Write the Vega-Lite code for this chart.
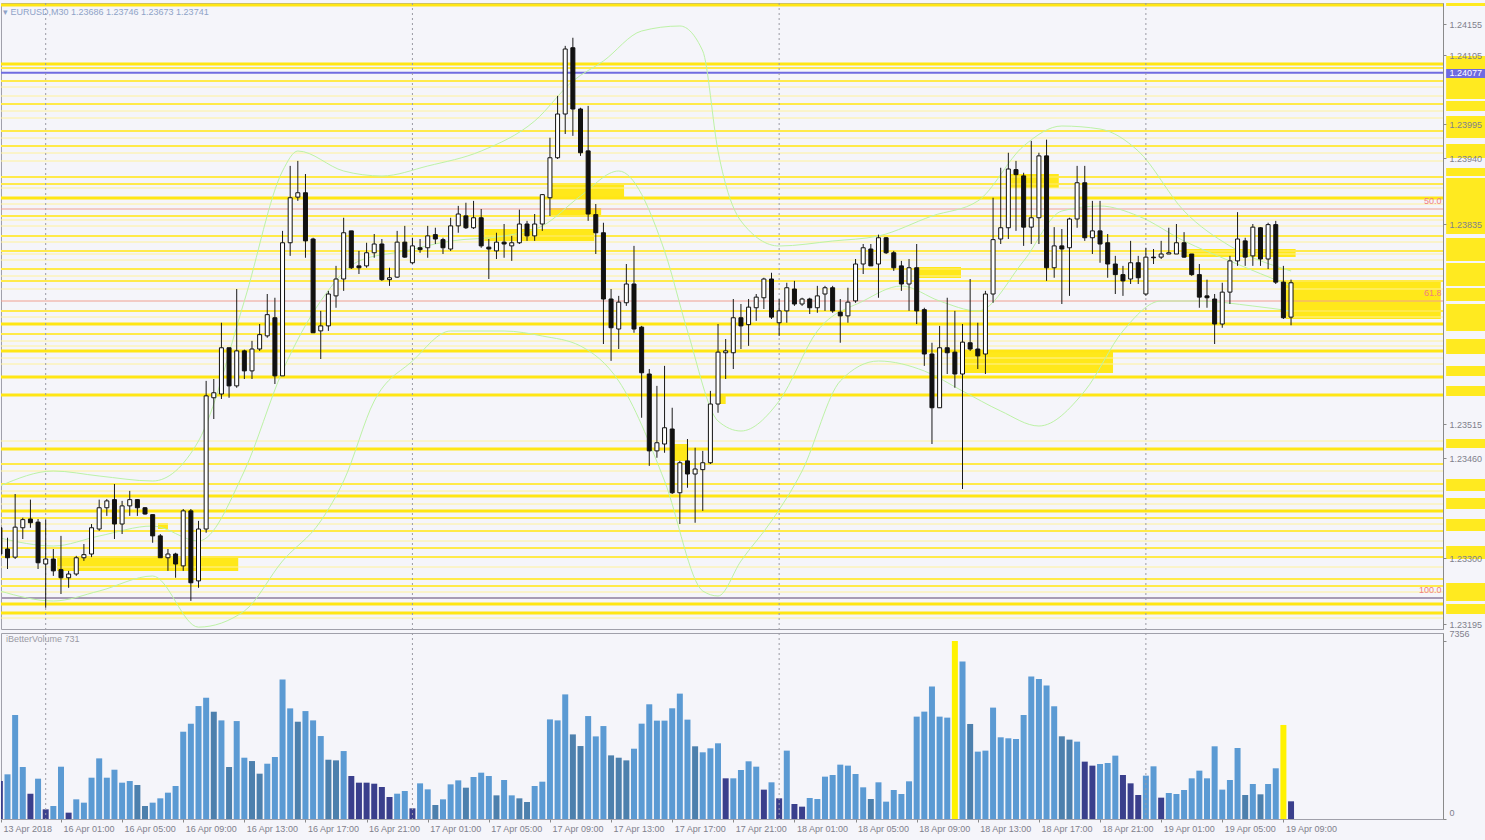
{
  "$schema": "https://vega.github.io/schema/vega-lite/v6.json",
  "background": "#F5F5FA",
  "autosize": {"type": "pad"},
  "padding": {"left": 0, "top": 2, "right": 0, "bottom": 6},
  "bounds": "flush",
  "spacing": 4,
  "config": {
    "font": "Liberation Sans",
    "view": {"stroke": "#A0A0AA", "strokeWidth": 1},
    "axis": {"labelFont": "Liberation Sans", "labelFontSize": 9, "labelColor": "#7F7F8C", "tickColor": "#8A8A8A", "domainColor": "#8A8A8A", "grid": false}
  },
  "datasets": {
    "bars": [
      {"i":-6,"o":1.23349,"h":1.23360,"l":1.23296,"c":1.23307,"v":1570,"k":"d"},
      {"i":-5,"o":1.23315,"h":1.23333,"l":1.23283,"c":1.23301,"v":1846,"k":"n"},
      {"i":-4,"o":1.23302,"h":1.23403,"l":1.23299,"c":1.23350,"v":4295,"k":"n"},
      {"i":-3,"o":1.23349,"h":1.23365,"l":1.23331,"c":1.23362,"v":2148,"k":"n"},
      {"i":-2,"o":1.23363,"h":1.23394,"l":1.23349,"c":1.23357,"v":1046,"k":"d"},
      {"i":-1,"o":1.23358,"h":1.23363,"l":1.23283,"c":1.23293,"v":1666,"k":"n"},
      {"i":0,"o":1.23291,"h":1.23362,"l":1.23221,"c":1.23299,"v":400,"k":"d"},
      {"i":1,"o":1.23299,"h":1.23315,"l":1.23272,"c":1.23280,"v":537,"k":"n"},
      {"i":2,"o":1.23282,"h":1.23336,"l":1.23243,"c":1.23269,"v":2161,"k":"n"},
      {"i":3,"o":1.23269,"h":1.23280,"l":1.23253,"c":1.23275,"v":262,"k":"d"},
      {"i":4,"o":1.23275,"h":1.23304,"l":1.23272,"c":1.23301,"v":813,"k":"n"},
      {"i":5,"o":1.23301,"h":1.23323,"l":1.23296,"c":1.23306,"v":675,"k":"n"},
      {"i":6,"o":1.23307,"h":1.23355,"l":1.23302,"c":1.23349,"v":1707,"k":"n"},
      {"i":7,"o":1.23347,"h":1.23394,"l":1.23344,"c":1.23381,"v":2505,"k":"n"},
      {"i":8,"o":1.23381,"h":1.23395,"l":1.23368,"c":1.23392,"v":1707,"k":"n"},
      {"i":9,"o":1.23394,"h":1.23419,"l":1.23331,"c":1.23355,"v":2037,"k":"n"},
      {"i":10,"o":1.23355,"h":1.23392,"l":1.23339,"c":1.23384,"v":1501,"k":"n"},
      {"i":11,"o":1.23384,"h":1.23408,"l":1.23368,"c":1.23394,"v":1569,"k":"n"},
      {"i":12,"o":1.23394,"h":1.23395,"l":1.23368,"c":1.23381,"v":1404,"k":"s"},
      {"i":13,"o":1.23381,"h":1.23382,"l":1.23370,"c":1.23371,"v":537,"k":"s"},
      {"i":14,"o":1.23370,"h":1.23370,"l":1.23325,"c":1.23336,"v":675,"k":"n"},
      {"i":15,"o":1.23336,"h":1.23339,"l":1.23301,"c":1.23301,"v":854,"k":"n"},
      {"i":16,"o":1.23301,"h":1.23315,"l":1.23280,"c":1.23307,"v":1088,"k":"n"},
      {"i":17,"o":1.23307,"h":1.23309,"l":1.23269,"c":1.23291,"v":1363,"k":"n"},
      {"i":18,"o":1.23288,"h":1.23379,"l":1.23280,"c":1.23376,"v":3607,"k":"n"},
      {"i":19,"o":1.23376,"h":1.23379,"l":1.23232,"c":1.23261,"v":3937,"k":"n"},
      {"i":20,"o":1.23264,"h":1.23360,"l":1.23253,"c":1.23347,"v":4667,"k":"n"},
      {"i":21,"o":1.23347,"h":1.23584,"l":1.23341,"c":1.23560,"v":5011,"k":"n"},
      {"i":22,"o":1.23557,"h":1.23587,"l":1.23523,"c":1.23565,"v":4433,"k":"s"},
      {"i":23,"o":1.23563,"h":1.23677,"l":1.23555,"c":1.23637,"v":4075,"k":"n"},
      {"i":24,"o":1.23637,"h":1.23637,"l":1.23557,"c":1.23576,"v":2148,"k":"s"},
      {"i":25,"o":1.23576,"h":1.23731,"l":1.23573,"c":1.23632,"v":4047,"k":"n"},
      {"i":26,"o":1.23632,"h":1.23634,"l":1.23587,"c":1.23600,"v":2533,"k":"n"},
      {"i":27,"o":1.23600,"h":1.23648,"l":1.23587,"c":1.23635,"v":2395,"k":"s"},
      {"i":28,"o":1.23635,"h":1.23675,"l":1.23632,"c":1.23658,"v":1873,"k":"s"},
      {"i":29,"o":1.23656,"h":1.23723,"l":1.23653,"c":1.23690,"v":2285,"k":"n"},
      {"i":30,"o":1.23685,"h":1.23717,"l":1.23579,"c":1.23592,"v":2561,"k":"n"},
      {"i":31,"o":1.23592,"h":1.23824,"l":1.23592,"c":1.23805,"v":5768,"k":"n"},
      {"i":32,"o":1.23805,"h":1.23928,"l":1.23784,"c":1.23877,"v":4571,"k":"n"},
      {"i":33,"o":1.23878,"h":1.23936,"l":1.23872,"c":1.23885,"v":4020,"k":"s"},
      {"i":34,"o":1.23885,"h":1.23915,"l":1.23781,"c":1.23808,"v":4460,"k":"n"},
      {"i":35,"o":1.23811,"h":1.23813,"l":1.23661,"c":1.23661,"v":4075,"k":"n"},
      {"i":36,"o":1.23664,"h":1.23696,"l":1.23619,"c":1.23672,"v":3428,"k":"n"},
      {"i":37,"o":1.23672,"h":1.23728,"l":1.23664,"c":1.23723,"v":2450,"k":"s"},
      {"i":38,"o":1.23720,"h":1.23768,"l":1.23701,"c":1.23747,"v":2423,"k":"s"},
      {"i":39,"o":1.23747,"h":1.23845,"l":1.23728,"c":1.23821,"v":2808,"k":"n"},
      {"i":40,"o":1.23824,"h":1.23824,"l":1.23763,"c":1.23765,"v":1776,"k":"d"},
      {"i":41,"o":1.23768,"h":1.23792,"l":1.23755,"c":1.23765,"v":1501,"k":"d"},
      {"i":42,"o":1.23768,"h":1.23805,"l":1.23765,"c":1.23789,"v":1501,"k":"d"},
      {"i":43,"o":1.23789,"h":1.23819,"l":1.23781,"c":1.23803,"v":1459,"k":"d"},
      {"i":44,"o":1.23803,"h":1.23811,"l":1.23744,"c":1.23746,"v":1322,"k":"d"},
      {"i":45,"o":1.23746,"h":1.23765,"l":1.23736,"c":1.23749,"v":909,"k":"d"},
      {"i":46,"o":1.23750,"h":1.23824,"l":1.23749,"c":1.23806,"v":1046,"k":"n"},
      {"i":47,"o":1.23806,"h":1.23832,"l":1.23781,"c":1.23782,"v":1156,"k":"n"},
      {"i":48,"o":1.23773,"h":1.23813,"l":1.23771,"c":1.23800,"v":441,"k":"d"},
      {"i":49,"o":1.23797,"h":1.23811,"l":1.23789,"c":1.23794,"v":1473,"k":"n"},
      {"i":50,"o":1.23797,"h":1.23832,"l":1.23781,"c":1.23816,"v":1225,"k":"n"},
      {"i":51,"o":1.23818,"h":1.23829,"l":1.23803,"c":1.23811,"v":578,"k":"s"},
      {"i":52,"o":1.23810,"h":1.23813,"l":1.23787,"c":1.23797,"v":813,"k":"n"},
      {"i":53,"o":1.23795,"h":1.23845,"l":1.23792,"c":1.23832,"v":1432,"k":"n"},
      {"i":54,"o":1.23832,"h":1.23864,"l":1.23821,"c":1.23851,"v":1597,"k":"n"},
      {"i":55,"o":1.23848,"h":1.23869,"l":1.23827,"c":1.23829,"v":1294,"k":"s"},
      {"i":56,"o":1.23829,"h":1.23872,"l":1.23827,"c":1.23845,"v":1735,"k":"n"},
      {"i":57,"o":1.23845,"h":1.23859,"l":1.23797,"c":1.23800,"v":1914,"k":"n"},
      {"i":58,"o":1.23798,"h":1.23811,"l":1.23747,"c":1.23795,"v":1776,"k":"n"},
      {"i":59,"o":1.23792,"h":1.23821,"l":1.23779,"c":1.23806,"v":977,"k":"s"},
      {"i":60,"o":1.23806,"h":1.23835,"l":1.23781,"c":1.23803,"v":1611,"k":"n"},
      {"i":61,"o":1.23800,"h":1.23816,"l":1.23776,"c":1.23805,"v":977,"k":"n"},
      {"i":62,"o":1.23805,"h":1.23858,"l":1.23803,"c":1.23835,"v":854,"k":"s"},
      {"i":63,"o":1.23835,"h":1.23840,"l":1.23808,"c":1.23816,"v":702,"k":"s"},
      {"i":64,"o":1.23816,"h":1.23851,"l":1.23808,"c":1.23835,"v":1363,"k":"n"},
      {"i":65,"o":1.23835,"h":1.23883,"l":1.23824,"c":1.23882,"v":1542,"k":"n"},
      {"i":66,"o":1.23877,"h":1.23973,"l":1.23848,"c":1.23941,"v":4116,"k":"n"},
      {"i":67,"o":1.23941,"h":1.24040,"l":1.23939,"c":1.24011,"v":4075,"k":"n"},
      {"i":68,"o":1.24011,"h":1.24120,"l":1.23979,"c":1.24115,"v":5149,"k":"n"},
      {"i":69,"o":1.24117,"h":1.24133,"l":1.23976,"c":1.24019,"v":3496,"k":"s"},
      {"i":70,"o":1.24019,"h":1.24021,"l":1.23944,"c":1.23949,"v":3015,"k":"s"},
      {"i":71,"o":1.23952,"h":1.24024,"l":1.23840,"c":1.23851,"v":4254,"k":"n"},
      {"i":72,"o":1.23850,"h":1.23867,"l":1.23787,"c":1.23821,"v":3414,"k":"n"},
      {"i":73,"o":1.23821,"h":1.23837,"l":1.23643,"c":1.23715,"v":3841,"k":"n"},
      {"i":74,"o":1.23715,"h":1.23731,"l":1.23616,"c":1.23669,"v":2629,"k":"s"},
      {"i":75,"o":1.23667,"h":1.23720,"l":1.23635,"c":1.23710,"v":2533,"k":"s"},
      {"i":76,"o":1.23709,"h":1.23771,"l":1.23704,"c":1.23739,"v":2423,"k":"s"},
      {"i":77,"o":1.23739,"h":1.23800,"l":1.23661,"c":1.23667,"v":2905,"k":"n"},
      {"i":78,"o":1.23670,"h":1.23672,"l":1.23525,"c":1.23597,"v":3940,"k":"n"},
      {"i":79,"o":1.23595,"h":1.23603,"l":1.23448,"c":1.23472,"v":4740,"k":"n"},
      {"i":80,"o":1.23472,"h":1.23576,"l":1.23461,"c":1.23485,"v":4065,"k":"n"},
      {"i":81,"o":1.23483,"h":1.23608,"l":1.23469,"c":1.23509,"v":4065,"k":"n"},
      {"i":82,"o":1.23507,"h":1.23541,"l":1.23403,"c":1.23405,"v":4575,"k":"n"},
      {"i":83,"o":1.23405,"h":1.23456,"l":1.23355,"c":1.23453,"v":5181,"k":"n"},
      {"i":84,"o":1.23456,"h":1.23491,"l":1.23413,"c":1.23435,"v":4106,"k":"n"},
      {"i":85,"o":1.23435,"h":1.23477,"l":1.23357,"c":1.23443,"v":3004,"k":"s"},
      {"i":86,"o":1.23442,"h":1.23472,"l":1.23376,"c":1.23453,"v":2756,"k":"n"},
      {"i":87,"o":1.23453,"h":1.23568,"l":1.23451,"c":1.23547,"v":2921,"k":"n"},
      {"i":88,"o":1.23547,"h":1.23675,"l":1.23533,"c":1.23630,"v":3128,"k":"n"},
      {"i":89,"o":1.23629,"h":1.23651,"l":1.23587,"c":1.23632,"v":1681,"k":"d"},
      {"i":90,"o":1.23629,"h":1.23715,"l":1.23603,"c":1.23685,"v":1681,"k":"n"},
      {"i":91,"o":1.23685,"h":1.23707,"l":1.23635,"c":1.23672,"v":2026,"k":"n"},
      {"i":92,"o":1.23674,"h":1.23715,"l":1.23640,"c":1.23702,"v":2384,"k":"n"},
      {"i":93,"o":1.23701,"h":1.23723,"l":1.23680,"c":1.23718,"v":2163,"k":"n"},
      {"i":94,"o":1.23717,"h":1.23749,"l":1.23699,"c":1.23747,"v":1213,"k":"d"},
      {"i":95,"o":1.23747,"h":1.23757,"l":1.23683,"c":1.23686,"v":1516,"k":"n"},
      {"i":96,"o":1.23677,"h":1.23715,"l":1.23656,"c":1.23696,"v":854,"k":"d"},
      {"i":97,"o":1.23696,"h":1.23741,"l":1.23677,"c":1.23733,"v":2825,"k":"n"},
      {"i":98,"o":1.23731,"h":1.23744,"l":1.23704,"c":1.23707,"v":620,"k":"d"},
      {"i":99,"o":1.23707,"h":1.23717,"l":1.23704,"c":1.23715,"v":510,"k":"d"},
      {"i":100,"o":1.23715,"h":1.23717,"l":1.23691,"c":1.23701,"v":868,"k":"n"},
      {"i":101,"o":1.23701,"h":1.23736,"l":1.23693,"c":1.23720,"v":827,"k":"n"},
      {"i":102,"o":1.23723,"h":1.23736,"l":1.23696,"c":1.23733,"v":1750,"k":"n"},
      {"i":103,"o":1.23733,"h":1.23736,"l":1.23693,"c":1.23696,"v":1819,"k":"n"},
      {"i":104,"o":1.23694,"h":1.23715,"l":1.23645,"c":1.23688,"v":2246,"k":"n"},
      {"i":105,"o":1.23688,"h":1.23733,"l":1.23677,"c":1.23710,"v":2205,"k":"n"},
      {"i":106,"o":1.23712,"h":1.23779,"l":1.23709,"c":1.23771,"v":1860,"k":"n"},
      {"i":107,"o":1.23771,"h":1.23803,"l":1.23755,"c":1.23797,"v":1309,"k":"n"},
      {"i":108,"o":1.23795,"h":1.23803,"l":1.23768,"c":1.23768,"v":827,"k":"s"},
      {"i":109,"o":1.23771,"h":1.23818,"l":1.23717,"c":1.23813,"v":1516,"k":"n"},
      {"i":110,"o":1.23813,"h":1.23814,"l":1.23787,"c":1.23789,"v":717,"k":"n"},
      {"i":111,"o":1.23789,"h":1.23792,"l":1.23760,"c":1.23765,"v":1199,"k":"n"},
      {"i":112,"o":1.23768,"h":1.23776,"l":1.23728,"c":1.23739,"v":1034,"k":"n"},
      {"i":113,"o":1.23739,"h":1.23779,"l":1.23696,"c":1.23765,"v":1557,"k":"n"},
      {"i":114,"o":1.23765,"h":1.23803,"l":1.23675,"c":1.23696,"v":4230,"k":"n"},
      {"i":115,"o":1.23698,"h":1.23701,"l":1.23608,"c":1.23627,"v":4437,"k":"n"},
      {"i":116,"o":1.23627,"h":1.23645,"l":1.23483,"c":1.23541,"v":5471,"k":"n"},
      {"i":117,"o":1.23541,"h":1.23672,"l":1.23541,"c":1.23637,"v":4230,"k":"n"},
      {"i":118,"o":1.23637,"h":1.23717,"l":1.23595,"c":1.23629,"v":4189,"k":"n"},
      {"i":119,"o":1.23630,"h":1.23696,"l":1.23573,"c":1.23595,"v":7356,"k":"y"},
      {"i":120,"o":1.23595,"h":1.23675,"l":1.23411,"c":1.23646,"v":6504,"k":"n"},
      {"i":121,"o":1.23645,"h":1.23747,"l":1.23632,"c":1.23635,"v":3927,"k":"s"},
      {"i":122,"o":1.23635,"h":1.23677,"l":1.23603,"c":1.23624,"v":2784,"k":"n"},
      {"i":123,"o":1.23627,"h":1.23728,"l":1.23595,"c":1.23723,"v":2825,"k":"n"},
      {"i":124,"o":1.23723,"h":1.23877,"l":1.23709,"c":1.23810,"v":4603,"k":"n"},
      {"i":125,"o":1.23811,"h":1.23925,"l":1.23803,"c":1.23829,"v":3376,"k":"n"},
      {"i":126,"o":1.23829,"h":1.23949,"l":1.23811,"c":1.23923,"v":3335,"k":"n"},
      {"i":127,"o":1.23922,"h":1.23936,"l":1.23824,"c":1.23914,"v":3307,"k":"n"},
      {"i":128,"o":1.23912,"h":1.23917,"l":1.23800,"c":1.23830,"v":4299,"k":"n"},
      {"i":129,"o":1.23830,"h":1.23968,"l":1.23803,"c":1.23845,"v":5884,"k":"n"},
      {"i":130,"o":1.23845,"h":1.23949,"l":1.23803,"c":1.23944,"v":5788,"k":"n"},
      {"i":131,"o":1.23944,"h":1.23970,"l":1.23744,"c":1.23765,"v":5512,"k":"n"},
      {"i":132,"o":1.23765,"h":1.23830,"l":1.23749,"c":1.23800,"v":4658,"k":"n"},
      {"i":133,"o":1.23800,"h":1.23827,"l":1.23707,"c":1.23795,"v":3417,"k":"s"},
      {"i":134,"o":1.23797,"h":1.23845,"l":1.23720,"c":1.23843,"v":3280,"k":"s"},
      {"i":135,"o":1.23843,"h":1.23928,"l":1.23829,"c":1.23901,"v":3197,"k":"n"},
      {"i":136,"o":1.23901,"h":1.23928,"l":1.23808,"c":1.23813,"v":2370,"k":"d"},
      {"i":137,"o":1.23813,"h":1.23872,"l":1.23787,"c":1.23824,"v":2205,"k":"d"},
      {"i":138,"o":1.23824,"h":1.23872,"l":1.23773,"c":1.23803,"v":2274,"k":"n"},
      {"i":139,"o":1.23805,"h":1.23819,"l":1.23749,"c":1.23771,"v":2315,"k":"n"},
      {"i":140,"o":1.23771,"h":1.23784,"l":1.23723,"c":1.23754,"v":2618,"k":"n"},
      {"i":141,"o":1.23754,"h":1.23768,"l":1.23720,"c":1.23744,"v":1819,"k":"d"},
      {"i":142,"o":1.23747,"h":1.23808,"l":1.23739,"c":1.23773,"v":1474,"k":"d"},
      {"i":143,"o":1.23773,"h":1.23784,"l":1.23739,"c":1.23749,"v":992,"k":"d"},
      {"i":144,"o":1.23723,"h":1.23797,"l":1.23720,"c":1.23782,"v":1791,"k":"n"},
      {"i":145,"o":1.23782,"h":1.23795,"l":1.23771,"c":1.23781,"v":2177,"k":"n"},
      {"i":146,"o":1.23782,"h":1.23808,"l":1.23779,"c":1.23787,"v":882,"k":"d"},
      {"i":147,"o":1.23787,"h":1.23829,"l":1.23787,"c":1.23789,"v":1075,"k":"n"},
      {"i":148,"o":1.23787,"h":1.23835,"l":1.23787,"c":1.23805,"v":1034,"k":"n"},
      {"i":149,"o":1.23805,"h":1.23822,"l":1.23781,"c":1.23782,"v":1199,"k":"n"},
      {"i":150,"o":1.23787,"h":1.23787,"l":1.23752,"c":1.23754,"v":1681,"k":"n"},
      {"i":151,"o":1.23754,"h":1.23771,"l":1.23701,"c":1.23718,"v":1998,"k":"n"},
      {"i":152,"o":1.23720,"h":1.23746,"l":1.23701,"c":1.23717,"v":1681,"k":"n"},
      {"i":153,"o":1.23715,"h":1.23723,"l":1.23643,"c":1.23675,"v":3004,"k":"n"},
      {"i":154,"o":1.23675,"h":1.23741,"l":1.23669,"c":1.23726,"v":1213,"k":"n"},
      {"i":155,"o":1.23726,"h":1.23784,"l":1.23707,"c":1.23776,"v":1612,"k":"n"},
      {"i":156,"o":1.23776,"h":1.23854,"l":1.23768,"c":1.23811,"v":2935,"k":"n"},
      {"i":157,"o":1.23808,"h":1.23813,"l":1.23768,"c":1.23782,"v":992,"k":"s"},
      {"i":158,"o":1.23784,"h":1.23835,"l":1.23768,"c":1.23830,"v":1447,"k":"n"},
      {"i":159,"o":1.23829,"h":1.23830,"l":1.23768,"c":1.23779,"v":1020,"k":"s"},
      {"i":160,"o":1.23779,"h":1.23837,"l":1.23763,"c":1.23834,"v":1447,"k":"n"},
      {"i":161,"o":1.23834,"h":1.23840,"l":1.23739,"c":1.23742,"v":2095,"k":"n"},
      {"i":162,"o":1.23742,"h":1.23768,"l":1.23683,"c":1.23685,"v":3886,"k":"y"},
      {"i":163,"o":1.23686,"h":1.23746,"l":1.23673,"c":1.23741,"v":731,"k":"d"}
    ],
    "hlines": [
      {"p":1.241854,"k":"a"},{"p":1.240910,"k":"a"},{"p":1.238766,"k":"a"},{"p":1.236750,"k":"a"},
      {"p":1.236318,"k":"a"},{"p":1.235902,"k":"a"},{"p":1.235614,"k":"a"},{"p":1.234750,"k":"a"},
      {"p":1.233998,"k":"a"},{"p":1.233758,"k":"a"},{"p":1.232270,"k":"a"},{"p":1.232126,"k":"a"},
      {"p":1.240846,"k":"b"},{"p":1.240638,"k":"b"},{"p":1.240270,"k":"b"},{"p":1.239838,"k":"b"},
      {"p":1.239598,"k":"b"},{"p":1.239102,"k":"b"},{"p":1.238990,"k":"b"},{"p":1.238478,"k":"b"},
      {"p":1.238158,"k":"b"},{"p":1.237918,"k":"b"},{"p":1.237630,"k":"b"},{"p":1.237438,"k":"b"},
      {"p":1.236958,"k":"b"},{"p":1.236590,"k":"b"},{"p":1.234510,"k":"b"},{"p":1.234190,"k":"b"},
      {"p":1.233646,"k":"b"},{"p":1.233438,"k":"b"},{"p":1.233166,"k":"b"},{"p":1.233022,"k":"b"},
      {"p":1.232670,"k":"b"},{"p":1.232558,"k":"b"},
      {"p":1.240542,"k":"c"},{"p":1.240398,"k":"c"},{"p":1.240158,"k":"c"},{"p":1.240046,"k":"c"},
      {"p":1.239726,"k":"c"},{"p":1.239486,"k":"c"},{"p":1.239358,"k":"c"},{"p":1.238926,"k":"c"},
      {"p":1.238670,"k":"c"},{"p":1.238414,"k":"c"},{"p":1.238318,"k":"c"},{"p":1.238062,"k":"c"},
      {"p":1.237870,"k":"c"},{"p":1.237774,"k":"c"},{"p":1.237518,"k":"c"},{"p":1.237310,"k":"c"},
      {"p":1.236862,"k":"c"},{"p":1.236478,"k":"c"},{"p":1.236398,"k":"c"},{"p":1.236206,"k":"c"},
      {"p":1.236110,"k":"c"},{"p":1.234878,"k":"c"},{"p":1.234398,"k":"c"},{"p":1.234078,"k":"c"},
      {"p":1.233870,"k":"c"},{"p":1.233550,"k":"c"},{"p":1.233278,"k":"c"},{"p":1.232862,"k":"c"},
      {"p":1.232462,"k":"c"},{"p":1.232046,"k":"c"},
      {"p":1.238590,"k":"fib"},{"p":1.237118,"k":"fib"},{"p":1.232366,"k":"fib100"},
      {"p":1.24077,"k":"blue"}
    ],
    "zones": [
      {"i1":1.5,"i2":25.2,"p1":1.233038,"p2":1.232798},
      {"i1":66.1,"i2":75.7,"p1":1.238990,"p2":1.238782},
      {"i1":66.1,"i2":72.7,"p1":1.238606,"p2":1.238478},
      {"i1":57.4,"i2":71.8,"p1":1.238270,"p2":1.238078},
      {"i1":114.2,"i2":119.8,"p1":1.237662,"p2":1.237486},
      {"i1":119.8,"i2":139.7,"p1":1.236318,"p2":1.235966},
      {"i1":125.7,"i2":132.6,"p1":1.239150,"p2":1.238926},
      {"i1":149.0,"i2":163.6,"p1":1.237950,"p2":1.237822},
      {"i1":162.3,"i2":182.6,"p1":1.237438,"p2":1.236830},
      {"i1":14.7,"i2":16.0,"p1":1.233566,"p2":1.233470},
      {"i1":82.2,"i2":84.1,"p1":1.234830,"p2":1.234558},
      {"i1":88.0,"i2":89.0,"p1":1.235630,"p2":1.235470}
    ],
    "tags": [
      {"p1":1.241886,"p2":1.241838},{"p1":1.241038,"p2":1.240830},{"p1":1.240686,"p2":1.240350},
      {"p1":1.240318,"p2":1.240158},{"p1":1.240078,"p2":1.239726},{"p1":1.239630,"p2":1.239406},
      {"p1":1.239246,"p2":1.239118},{"p1":1.239086,"p2":1.238190},{"p1":1.238126,"p2":1.237758},
      {"p1":1.237726,"p2":1.237358},{"p1":1.237326,"p2":1.237118},{"p1":1.237070,"p2":1.236638},
      {"p1":1.236510,"p2":1.236270},{"p1":1.236078,"p2":1.235918},{"p1":1.235758,"p2":1.235598},
      {"p1":1.234910,"p2":1.234766},{"p1":1.234270,"p2":1.234078},{"p1":1.233966,"p2":1.233790},
      {"p1":1.233630,"p2":1.233438},{"p1":1.233198,"p2":1.232990},{"p1":1.232606,"p2":1.232318},
      {"p1":1.232270,"p2":1.232110}
    ],
    "bluetag": [{"p":1.24077,"p1":1.240830,"p2":1.240686,"t":"1.24077"}],
    "fibtext": [{"t":"50.0","p":1.238590},{"t":"61.8","p":1.237118},{"t":"100.0","p":1.232366}],
    "days": [{"i":0},{"i":48},{"i":96},{"i":144}],
    "bands": [
      {"b":"upper","i":-6,"p":1.234158},{"b":"upper","i":1,"p":1.234398},{"b":"upper","i":7,"p":1.234318},
      {"b":"upper","i":14,"p":1.234238},{"b":"upper","i":20,"p":1.234878},{"b":"upper","i":26,"p":1.237118},
      {"b":"upper","i":31,"p":1.239198},{"b":"upper","i":33,"p":1.239518},{"b":"upper","i":39,"p":1.239198},
      {"b":"upper","i":44,"p":1.239118},{"b":"upper","i":50,"p":1.239278},{"b":"upper","i":57,"p":1.239518},
      {"b":"upper","i":64,"p":1.239998},{"b":"upper","i":69,"p":1.240638},{"b":"upper","i":73,"p":1.240958},
      {"b":"upper","i":78,"p":1.241438},{"b":"upper","i":83,"p":1.241518},{"b":"upper","i":86,"p":1.241118},
      {"b":"upper","i":88,"p":1.239518},{"b":"upper","i":91,"p":1.238398},{"b":"upper","i":96,"p":1.237998},
      {"b":"upper","i":103,"p":1.238078},{"b":"upper","i":109,"p":1.238158},{"b":"upper","i":116,"p":1.238478},
      {"b":"upper","i":122,"p":1.238718},{"b":"upper","i":128,"p":1.239598},{"b":"upper","i":133,"p":1.239918},
      {"b":"upper","i":138,"p":1.239870},{"b":"upper","i":143,"p":1.239518},{"b":"upper","i":149,"p":1.238558},
      {"b":"upper","i":155,"p":1.237998},{"b":"upper","i":163,"p":1.237598},
      {"b":"middle","i":-6,"p":1.233326},{"b":"middle","i":1,"p":1.233198},{"b":"middle","i":7,"p":1.233358},
      {"b":"middle","i":14,"p":1.233518},{"b":"middle","i":20,"p":1.233278},{"b":"middle","i":26,"p":1.234398},
      {"b":"middle","i":31,"p":1.235998},{"b":"middle","i":36,"p":1.237118},{"b":"middle","i":41,"p":1.237758},
      {"b":"middle","i":47,"p":1.237918},{"b":"middle","i":53,"p":1.238078},{"b":"middle","i":60,"p":1.238158},
      {"b":"middle","i":65,"p":1.238318},{"b":"middle","i":70,"p":1.238798},{"b":"middle","i":75,"p":1.239198},
      {"b":"middle","i":81,"p":1.237918},{"b":"middle","i":84,"p":1.236638},{"b":"middle","i":88,"p":1.235198},
      {"b":"middle","i":91,"p":1.235038},{"b":"middle","i":96,"p":1.235518},{"b":"middle","i":101,"p":1.236638},
      {"b":"middle","i":107,"p":1.237118},{"b":"middle","i":112,"p":1.237358},{"b":"middle","i":117,"p":1.237118},
      {"b":"middle","i":122,"p":1.236958},{"b":"middle","i":128,"p":1.237758},{"b":"middle","i":133,"p":1.238558},
      {"b":"middle","i":138,"p":1.238638},{"b":"middle","i":143,"p":1.238478},{"b":"middle","i":149,"p":1.238078},
      {"b":"middle","i":155,"p":1.237758},{"b":"middle","i":163,"p":1.237358},
      {"b":"lower","i":-6,"p":1.232478},{"b":"lower","i":1,"p":1.232318},{"b":"lower","i":7,"p":1.232478},
      {"b":"lower","i":14,"p":1.232718},{"b":"lower","i":20,"p":1.231900},{"b":"lower","i":26,"p":1.232158},
      {"b":"lower","i":31,"p":1.232958},{"b":"lower","i":36,"p":1.233598},{"b":"lower","i":39,"p":1.234238},
      {"b":"lower","i":43,"p":1.235518},{"b":"lower","i":48,"p":1.236158},{"b":"lower","i":53,"p":1.236638},
      {"b":"lower","i":60,"p":1.236638},{"b":"lower","i":65,"p":1.236558},{"b":"lower","i":70,"p":1.236398},
      {"b":"lower","i":75,"p":1.235838},{"b":"lower","i":81,"p":1.234238},{"b":"lower","i":86,"p":1.232478},
      {"b":"lower","i":88,"p":1.232398},{"b":"lower","i":91,"p":1.232958},{"b":"lower","i":95,"p":1.233598},
      {"b":"lower","i":99,"p":1.234398},{"b":"lower","i":104,"p":1.235838},{"b":"lower","i":109,"p":1.236158},
      {"b":"lower","i":115,"p":1.235998},{"b":"lower","i":120,"p":1.235678},{"b":"lower","i":125,"p":1.235358},
      {"b":"lower","i":130,"p":1.235118},{"b":"lower","i":136,"p":1.235678},{"b":"lower","i":141,"p":1.236638},
      {"b":"lower","i":146,"p":1.237118},{"b":"lower","i":151,"p":1.237118},{"b":"lower","i":158,"p":1.237038},
      {"b":"lower","i":163,"p":1.236958}
    ]
  },
  "vconcat": [
    {
      "width": 1442,
      "height": 626,
      "title": {"text": "▾ EURUSD,M30  1.23686 1.23746 1.23673 1.23741", "anchor": "start", "frame": "group", "orient": "top", "offset": -14, "dx": 2, "fontSize": 9, "fontWeight": "normal", "font": "Liberation Sans", "color": "#8FA3C8"},
      "layer": [
        {
          "data": {"name": "zones"},
          "mark": {"type": "rect", "color": "#FFE81A"},
          "encoding": {
            "x": {"field": "i1", "type": "quantitative", "scale": {"domain": [-5.851, 182.89], "nice": false, "zero": false, "padding": 0}, "axis": null},
            "x2": {"field": "i2"},
            "y": {"field": "p1", "type": "quantitative", "scale": {"domain": [1.23187, 1.241886], "nice": false, "zero": false, "padding": 0},
                  "axis": {"orient": "right", "title": null, "values": [1.24155, 1.24105, 1.23995, 1.2394, 1.23835, 1.23515, 1.2346, 1.233, 1.23195], "format": ".5f", "tickSize": 3, "labelPadding": 3, "zindex": 1}},
            "y2": {"field": "p2"}
          }
        },
        {
          "data": {"name": "hlines"},
          "transform": [{"filter": "datum.k == 'c'"}],
          "mark": {"type": "rule", "color": "#FFF29A", "strokeWidth": 1, "clip": true},
          "encoding": {"y": {"field": "p", "type": "quantitative", "title": null}}
        },
        {
          "data": {"name": "hlines"},
          "transform": [{"filter": "datum.k == 'b'"}],
          "mark": {"type": "rule", "color": "#FFEA4A", "strokeWidth": 2, "clip": true},
          "encoding": {"y": {"field": "p", "type": "quantitative", "title": null}}
        },
        {
          "data": {"name": "hlines"},
          "transform": [{"filter": "datum.k == 'a'"}],
          "mark": {"type": "rule", "color": "#FFE614", "strokeWidth": 3, "clip": true},
          "encoding": {"y": {"field": "p", "type": "quantitative", "title": null}}
        },
        {
          "data": {"name": "hlines"},
          "transform": [{"filter": "datum.k == 'fib'"}],
          "mark": {"type": "rule", "color": "#F0A090", "strokeWidth": 1, "clip": true},
          "encoding": {"y": {"field": "p", "type": "quantitative", "title": null}}
        },
        {
          "data": {"name": "hlines"},
          "transform": [{"filter": "datum.k == 'fib100'"}],
          "mark": {"type": "rule", "color": "#A89CB4", "strokeWidth": 2, "clip": true},
          "encoding": {"y": {"field": "p", "type": "quantitative", "title": null}}
        },
        {
          "data": {"name": "hlines"},
          "transform": [{"filter": "datum.k == 'blue'"}],
          "mark": {"type": "rule", "color": "#6F6BE0", "strokeWidth": 2, "clip": true},
          "encoding": {"y": {"field": "p", "type": "quantitative", "title": null}}
        },
        {
          "data": {"name": "bands"},
          "mark": {"type": "line", "color": "#BDF2A6", "strokeWidth": 1, "interpolate": "monotone", "clip": true},
          "encoding": {
            "x": {"field": "i", "type": "quantitative", "axis": null},
            "y": {"field": "p", "type": "quantitative", "title": null},
            "detail": {"field": "b"}
          }
        },
        {
          "data": {"name": "days"},
          "mark": {"type": "rule", "color": "#9A9AA4", "strokeWidth": 1, "strokeDash": [2, 3], "clip": true},
          "encoding": {"x": {"field": "i", "type": "quantitative", "axis": null}}
        },
        {
          "data": {"name": "bars"},
          "mark": {"type": "rule", "color": "#1A1A1A", "strokeWidth": 1, "clip": true},
          "encoding": {
            "x": {"field": "i", "type": "quantitative", "axis": null},
            "y": {"field": "l", "type": "quantitative", "title": null},
            "y2": {"field": "h"}
          }
        },
        {
          "data": {"name": "bars"},
          "mark": {"type": "bar", "orient": "vertical", "width": 4, "stroke": "#111111", "strokeWidth": 1, "clip": true},
          "encoding": {
            "x": {"field": "i", "type": "quantitative", "axis": null},
            "y": {"field": "o", "type": "quantitative", "title": null},
            "y2": {"field": "c"},
            "fill": {"condition": {"test": "datum.c >= datum.o", "value": "#FFFFFF"}, "value": "#111111"}
          }
        },
        {
          "data": {"name": "tags"},
          "mark": {"type": "rect", "color": "#FFEA20"},
          "encoding": {
            "x": {"datum": 183.3},
            "x2": {"datum": 188.5},
            "y": {"field": "p1", "type": "quantitative", "title": null},
            "y2": {"field": "p2"}
          }
        },
        {
          "data": {"name": "bluetag"},
          "mark": {"type": "rect", "color": "#6F6BE0"},
          "encoding": {
            "x": {"datum": 183.3},
            "x2": {"datum": 188.5},
            "y": {"field": "p1", "type": "quantitative", "title": null},
            "y2": {"field": "p2"}
          }
        },
        {
          "data": {"name": "bluetag"},
          "mark": {"type": "text", "align": "left", "baseline": "middle", "fontSize": 9, "color": "#FFFFFF"},
          "encoding": {
            "x": {"datum": 183.75},
            "y": {"field": "p", "type": "quantitative", "title": null},
            "text": {"field": "t"}
          }
        },
        {
          "data": {"name": "fibtext"},
          "mark": {"type": "text", "align": "right", "baseline": "bottom", "dy": -3, "fontSize": 9, "color": "#F08080"},
          "encoding": {
            "x": {"datum": 182.7},
            "y": {"field": "p", "type": "quantitative", "title": null},
            "text": {"field": "t"}
          }
        }
      ]
    },
    {
      "width": 1442,
      "height": 186,
      "title": {"text": "iBetterVolume 731", "anchor": "start", "frame": "group", "orient": "top", "offset": -14, "dx": 5, "fontSize": 9, "fontWeight": "normal", "font": "Liberation Sans", "color": "#9A9AA4"},
      "data": {"name": "bars"},
      "layer": [
        {
          "mark": {"type": "bar", "orient": "vertical", "width": 6, "clip": true},
          "encoding": {
            "x": {"field": "i", "type": "quantitative", "scale": {"domain": [-5.851, 182.89], "nice": false, "zero": false, "padding": 0},
                  "axis": {"title": null, "values": [-5.85, 2, 10, 18, 26, 34, 42, 50, 58, 66, 74, 82, 90, 98, 106, 114, 122, 130, 138, 146, 154, 162],
                           "labelExpr": "datum.value < 0 ? '13 Apr 2018' : (16 + floor(datum.value / 48)) + ' Apr ' + (floor((datum.value % 48) / 2) < 10 ? '0' : '') + floor((datum.value % 48) / 2) + ':00'",
                           "labelAlign": "left", "labelOffset": 2, "labelPadding": 2, "tickSize": 3, "domain": false, "labelOverlap": false, "labelFlush": false}},
            "y": {"field": "v", "type": "quantitative", "scale": {"domain": [0, 7686], "nice": false, "padding": 0},
                  "axis": {"orient": "right", "title": null, "values": [0, 7356], "format": "d", "tickSize": 3, "labelPadding": 3, "labelBaseline": "bottom", "labelOffset": -2}},
            "color": {"field": "k", "type": "nominal", "legend": null,
                      "scale": {"domain": ["n", "s", "d", "y"], "range": ["#5B9AD3", "#4D80AD", "#3A3F8C", "#FFF200"]}}
          }
        },
        {
          "data": {"name": "days"},
          "mark": {"type": "rule", "color": "#9A9AA4", "strokeWidth": 1, "strokeDash": [2, 3], "clip": true},
          "encoding": {"x": {"field": "i", "type": "quantitative", "title": null}}
        }
      ]
    }
  ]
}
